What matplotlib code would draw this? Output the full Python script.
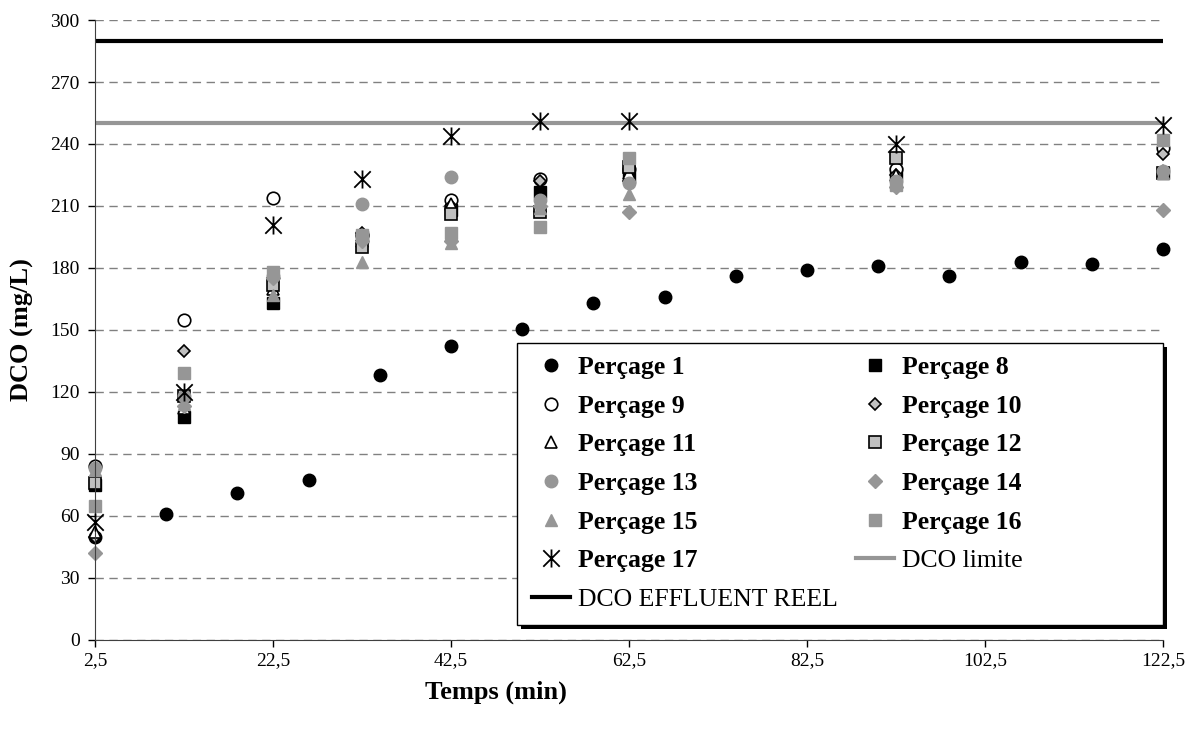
import numpy as np
import matplotlib
matplotlib.use("Agg")
import matplotlib.pyplot as plt
from matplotlib.path import Path
from matplotlib.patches import Rectangle
from matplotlib.transforms import offset_copy

plt.rcParams['font.family'] = ['Liberation Serif', 'DejaVu Serif']

# Perçage 1 : mesures toutes les 8 min
t_p1 = [2.5, 10.5, 18.5, 26.5, 34.5, 42.5, 50.5, 58.5, 66.5, 74.5, 82.5, 90.5, 98.5, 106.5, 114.5, 122.5]
dco_p1 = [50, 61, 71, 77.5, 128, 142, 150.5, 163, 166, 176, 179, 181, 176, 183, 182, 189]

# Perçages 8 a 17
t_p = [2.5, 12.5, 22.5, 32.5, 42.5, 52.5, 62.5, 92.5, 122.5]
dco_p8 = [75, 108, 163, 195, 208, 217, 224, 226, 226]
dco_p9 = [84, 155, 214, 196, 213, 223, 228, 228, 238]
dco_p10 = [50, 140, 175, 197, 210, 222, 222, 225, 235]
dco_p11 = [52, 112, 170, 193, 211, 210, 226, 225, 227]
dco_p12 = [76, 118, 172, 190, 206, 207, 229, 233, 226]
dco_p13 = [83, 118, 176, 211, 224, 213, 221, 222, 227]
dco_p14 = [42, 113, 175, 193, 193, 210, 207, 219, 208]
dco_p15 = [82, 114, 167, 183, 192, 209, 216, 221, 226]
dco_p16 = [65, 129, 178, 196, 197, 200, 233, 220, 242]
dco_p17 = [57, 120, 201, 223, 244, 251, 251, 240, 249]

dco_limite = 250
dco_effluent = 290

x_ticks = [2.5, 22.5, 42.5, 62.5, 82.5, 102.5, 122.5]
y_ticks = list(range(0, 301, 30))

GRIS = "#969696"
GRIS_CLAIR = "#C0C0C0"

# marqueur X avec trait vertical (style Excel)
star_x = Path([(-1, -1), (1, 1), (-1, 1), (1, -1), (0, -1.1), (0, 1.1)],
              [Path.MOVETO, Path.LINETO, Path.MOVETO, Path.LINETO, Path.MOVETO, Path.LINETO])

fig = plt.figure(figsize=(12.02, 7.33), dpi=100)
ax = fig.add_axes([0.079, 0.127, 0.8886, 0.8457])

ms = 9
kw = dict(linestyle="none", clip_on=False)
h1, = ax.plot(t_p1, dco_p1, marker="o", ms=ms, color="black", label="Perçage 1", **kw)
h8, = ax.plot(t_p, dco_p8, marker="s", ms=ms - 0.5, color="black", label="Perçage 8", **kw)
h9, = ax.plot(t_p, dco_p9, marker="o", ms=ms, mfc="white", mec="black", mew=1.2, label="Perçage 9", **kw)
h10, = ax.plot(t_p, dco_p10, marker="D", ms=ms - 2.5, mfc=GRIS_CLAIR, mec="black", mew=1.2, label="Perçage 10", **kw)
h11, = ax.plot(t_p, dco_p11, marker="^", ms=ms, mfc="white", mec="black", mew=1.2, label="Perçage 11", **kw)
h12, = ax.plot(t_p, dco_p12, marker="s", ms=ms - 0.5, mfc=GRIS_CLAIR, mec="black", mew=1.2, label="Perçage 12", **kw)
h13, = ax.plot(t_p, dco_p13, marker="o", ms=ms, color=GRIS, label="Perçage 13", **kw)
h14, = ax.plot(t_p, dco_p14, marker="D", ms=ms - 2, color=GRIS, label="Perçage 14", **kw)
h15, = ax.plot(t_p, dco_p15, marker="^", ms=ms, color=GRIS, label="Perçage 15", **kw)
h16, = ax.plot(t_p, dco_p16, marker="s", ms=ms - 0.5, color=GRIS, label="Perçage 16", **kw)

hl = ax.axhline(dco_limite, color=GRIS, lw=3, label="DCO limite", zorder=2.5)
he = ax.axhline(dco_effluent, color="black", lw=3, label="DCO EFFLUENT REEL", zorder=2.5)

h17, = ax.plot(t_p, dco_p17, marker=star_x, ms=13, color="black", mew=1.3, label="Perçage 17", zorder=3, **kw)

ax.set_xlim(2.5, 122.5)
ax.set_ylim(0, 300)
ax.set_xticks(x_ticks)
ax.set_xticklabels([str(v).replace(".", ",") for v in x_ticks])
ax.set_yticks(y_ticks)
ax.tick_params(axis="both", labelsize=14, direction="out", length=5, width=1, color="black")
ax.tick_params(axis="y", pad=6)
ax.yaxis.grid(True, linestyle=(0, (6, 4)), color="#808080", lw=1)
ax.set_axisbelow(True)
for s in ["top", "right"]:
    ax.spines[s].set_visible(False)
for s in ["left", "bottom"]:
    ax.spines[s].set_color("#404040")

ax.set_xlabel("Temps (min)", fontsize=19, fontweight="bold")
ax.xaxis.set_label_coords(0.375, -0.065)
ax.set_ylabel("DCO (mg/L)", fontsize=19, fontweight="bold")
ax.yaxis.set_label_coords(-0.057, 0.5)

# cadre de la legende avec ombre noire
box = (0.395, 0.024, 0.605, 0.455)
shadow_tr = offset_copy(ax.transAxes, fig=fig, x=4, y=-4, units="dots")
ax.add_patch(Rectangle(box[:2], box[2], box[3], transform=shadow_tr, facecolor="black",
                       edgecolor="none", clip_on=False, zorder=8))
ax.add_patch(Rectangle(box[:2], box[2], box[3], transform=ax.transAxes, facecolor="white",
                       edgecolor="black", lw=1, clip_on=False, zorder=8.5))

leg_kw = dict(loc="upper left", frameon=False, prop={"weight": "bold", "size": 18.5},
              labelspacing=0.61, handlelength=1.48, handletextpad=0.3,
              borderpad=0, borderaxespad=0)
col1 = [h1, h9, h11, h13, h15, h17, he]
col2 = [h8, h10, h12, h14, h16, hl]
leg1 = ax.legend(handles=col1, bbox_to_anchor=((532 - 95) / 1068, 0.458), **leg_kw)
leg1.set_zorder(10)
ax.add_artist(leg1)
leg2 = ax.legend(handles=col2, bbox_to_anchor=((856 - 95) / 1068, 0.458), **leg_kw)
leg2.set_zorder(10)
for leg in (leg1, leg2):
    for txt in leg.get_texts():
        if txt.get_text().startswith("DCO"):
            txt.set_fontweight("normal")

fig.savefig("out.png", dpi=100)
